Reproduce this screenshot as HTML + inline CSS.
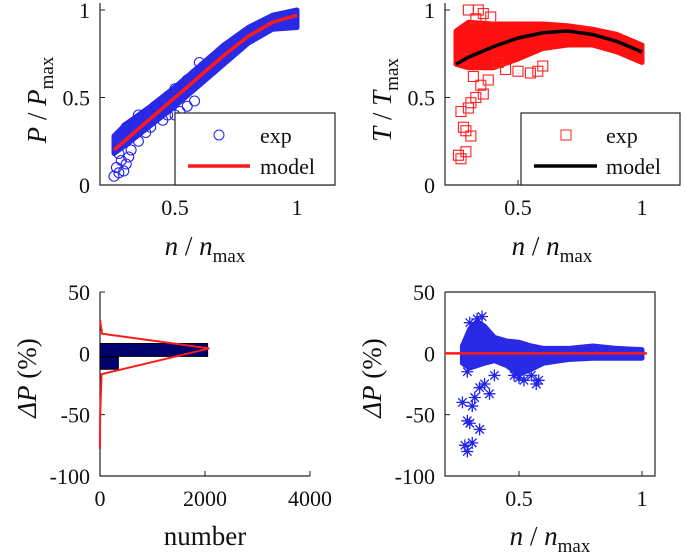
<!DOCTYPE html>
<html><head><meta charset="utf-8"><style>
html,body{margin:0;padding:0;background:#fff;}
svg{display:block;font-family:"Liberation Serif",serif;}
.tk{font-size:22px;fill:#111;}
.tt{font-size:27px;fill:#111;}
</style></head><body>
<svg id="fig" width="685" height="558" viewBox="0 0 685 558" xmlns="http://www.w3.org/2000/svg">
<g id="p1"></g>
<g id="p2"></g>
<g id="p3"></g>
<g id="p4"></g>
<text class="tt" transform="translate(46,100) rotate(-90)" text-anchor="middle"><tspan font-style="italic">P</tspan> / <tspan font-style="italic">P</tspan><tspan font-size="19" dy="7">max</tspan></text>
<text class="tt" x="205" y="255" text-anchor="middle"><tspan font-style="italic">n</tspan> / <tspan font-style="italic">n</tspan><tspan font-size="19" dy="7">max</tspan></text>
<text class="tt" transform="translate(391,100) rotate(-90)" text-anchor="middle"><tspan font-style="italic">T</tspan> / <tspan font-style="italic">T</tspan><tspan font-size="19" dy="7">max</tspan></text>
<text class="tt" x="552" y="255" text-anchor="middle"><tspan font-style="italic">n</tspan> / <tspan font-style="italic">n</tspan><tspan font-size="19" dy="7">max</tspan></text>
<text class="tt" transform="translate(36,378) rotate(-90)" text-anchor="middle"><tspan font-style="italic">ΔP</tspan> (%)</text>
<text class="tt" x="205" y="545" text-anchor="middle">number</text>
<text class="tt" transform="translate(381,378) rotate(-90)" text-anchor="middle"><tspan font-style="italic">ΔP</tspan> (%)</text>
<text class="tt" x="550" y="545" text-anchor="middle"><tspan font-style="italic">n</tspan> / <tspan font-style="italic">n</tspan><tspan font-size="19" dy="7">max</tspan></text>
</svg>
<script>
// ---- Panel 1 data (P/Pmax) ----
const pModelX=[0.25,0.3,0.4,0.5,0.6,0.7,0.8,0.9,1.0];
const pModelY=[0.2,0.26,0.38,0.5,0.62,0.74,0.85,0.93,0.97];
const pUpper=[0.28,0.35,0.45,0.56,0.68,0.8,0.9,0.97,1.0];
const pLower=[0.18,0.23,0.34,0.45,0.57,0.69,0.81,0.89,0.9];
const pOutX=[0.25,0.26,0.27,0.28,0.3,0.29,0.32,0.35,0.4,0.45,0.5,0.55,0.58,0.42,0.5,0.55,0.3,0.35,0.6,0.27,0.31,0.38,0.47,0.52];
const pOutY=[0.05,0.1,0.07,0.14,0.12,0.08,0.2,0.25,0.33,0.37,0.4,0.45,0.48,0.45,0.55,0.6,0.33,0.4,0.7,0.18,0.16,0.3,0.4,0.42];
// ---- Panel 2 data (T/Tmax) ----
const tModelX=[0.25,0.3,0.4,0.5,0.6,0.7,0.8,0.9,1.0];
const tModelY=[0.69,0.73,0.79,0.84,0.87,0.88,0.86,0.82,0.76];
const tUpper=[0.88,0.93,0.92,0.92,0.92,0.91,0.89,0.86,0.8];
const tLower=[0.69,0.67,0.67,0.72,0.78,0.8,0.8,0.76,0.7];
const tOutX=[0.26,0.27,0.29,0.28,0.29,0.31,0.27,0.3,0.31,0.33,0.36,0.35,0.32,0.38,0.3,0.34,0.36,0.45,0.5,0.55,0.58,0.6,0.42,0.33,0.39,0.28];
const tOutY=[0.17,0.15,0.19,0.33,0.31,0.28,0.42,0.44,0.47,0.5,0.52,0.57,0.62,0.6,1.0,1.0,0.98,0.66,0.65,0.64,0.65,0.68,0.7,0.95,0.96,0.72];
// ---- Panel 3 data (histogram) ----
const binLo=[-13,-2.5];
const binHi=[-3,8];
const binCount=[350,2050];
const fitDP=[-78,-50,-17,4,16,27];
const fitCount=[0,3,30,2080,40,0];
// ---- Panel 4 data (ΔP vs n) ----
const eX=[0.27,0.3,0.33,0.36,0.4,0.45,0.5,0.55,0.6,0.7,0.8,0.9,1.0];
const eUpper=[6,20,26,22,13,10,9,6,4,4,6,4,3];
const eLower=[-8,-12,-10,-8,-6,-10,-17,-13,-8,-5,-4,-4,-4];
const eOutX=[0.27,0.28,0.29,0.31,0.29,0.3,0.34,0.31,0.32,0.34,0.36,0.38,0.4,0.29,0.58,0.57,0.5,0.55,0.33,0.3,0.35,0.48,0.52];
const eOutY=[-40,-75,-80,-73,-55,-57,-62,-43,-36,-28,-25,-33,-18,-15,-22,-25,-20,-18,28,25,30,-18,-22];

const NS='http://www.w3.org/2000/svg';
function mk(tag,attrs,parent){const e=document.createElementNS(NS,tag);for(const k in attrs)e.setAttribute(k,attrs[k]);parent.appendChild(e);return e;}
function lin(d0,d1,r0,r1){return v=>r0+(v-d0)*(r1-r0)/(d1-d0);}
function axes(g,L,R,T,B,xt,xs,yt,ys,box){
  const a=mk('path',{d:`M${L},${T}V${B}H${R}`+(box?`V${T}H${L}`:''),fill:'none',stroke:'#222','stroke-width':1.2},g);
  
  xt.forEach(t=>{const x=xs(t.v);mk('line',{x1:x,x2:x,y1:B,y2:B-5,stroke:'#222'},g);
    const e=mk('text',{x:x,y:B+30,'text-anchor':'middle',class:'tk'},g);e.textContent=t.l;
    });
  yt.forEach(t=>{const y=ys(t.v);mk('line',{x1:L,x2:L+5,y1:y,y2:y,stroke:'#222'},g);
    const e=mk('text',{x:L-10,y:y+8,'text-anchor':'end',class:'tk'},g);e.textContent=t.l;
    });
}
function band(g,xs,ys,X,U,Lo,color,name){
  let d='M'+X.map((x,i)=>xs(x)+','+ys(U[i])).join('L');
  for(let i=X.length-1;i>=0;i--)d+='L'+xs(X[i])+','+ys(Lo[i]);
  const p=mk('path',{d:d+'Z',fill:color,stroke:color,'stroke-width':5,'stroke-linejoin':'round'},g);
  
}
function line(g,xs,ys,X,Y,color,w,name){
  const p=mk('polyline',{points:X.map((x,i)=>xs(x)+','+ys(Y[i])).join(' '),fill:'none',stroke:color,'stroke-width':w},g);
  
}
function star(g,x,y,c){const r=6;let d='';for(let k=0;k<4;k++){const a=k*Math.PI/4;d+=`M${x-r*Math.cos(a)},${y-r*Math.sin(a)}L${x+r*Math.cos(a)},${y+r*Math.sin(a)}`;}
  return mk('path',{d:d,stroke:c,'stroke-width':1.3,fill:'none'},g);}

// Panel 1
(function(){const g=document.getElementById('p1');
 const xs=lin(0.5,1,175,297),ys=lin(0,1,185,10);
 axes(g,100,335,3,185,[{v:0.5,l:'0.5'},{v:1,l:'1'}],xs,[{v:0,l:'0'},{v:0.5,l:'0.5'},{v:1,l:'1'}],ys,false);
 band(g,xs,ys,pModelX,pUpper,pLower,'#2a2ae6','exp-band');
 pOutX.forEach((x,i)=>{const c=mk('circle',{cx:xs(x),cy:ys(pOutY[i]),r:5,fill:'none',stroke:'#2222ee','stroke-width':1.1},g);
  });
 line(g,xs,ys,pModelX,pModelY,'#ff1a1a',3.5,'model-line');
 const lg=mk('g',{},g);
 mk('rect',{x:175,y:113,width:160,height:72,fill:'#fff',stroke:'#222','stroke-width':1.2},lg);
 mk('circle',{cx:219,cy:135,r:5,fill:'none',stroke:'#2222ee'},lg);
 let t=mk('text',{x:260,y:143,class:'tk'},lg);t.textContent='exp';
 mk('line',{x1:188,x2:250,y1:166,y2:166,stroke:'#ff1a1a','stroke-width':3.5},lg);
 t=mk('text',{x:260,y:174,class:'tk'},lg);t.textContent='model';
})();
// Panel 2
(function(){const g=document.getElementById('p2');
 const xs=lin(0.5,1,518,642),ys=lin(0,1,185,10);
 axes(g,445,680,3,185,[{v:0.5,l:'0.5'},{v:1,l:'1'}],xs,[{v:0,l:'0'},{v:0.5,l:'0.5'},{v:1,l:'1'}],ys,false);
 band(g,xs,ys,tModelX,tUpper,tLower,'#ff1010','exp-band');
 tOutX.forEach((x,i)=>{const c=mk('rect',{x:xs(x)-5,y:ys(tOutY[i])-5,width:10,height:10,fill:'none',stroke:'#ff2020','stroke-width':1.1},g);
  });
 line(g,xs,ys,tModelX,tModelY,'#000',3.5,'model-line');
 const lg=mk('g',{},g);
 mk('rect',{x:521,y:113,width:159,height:72,fill:'#fff',stroke:'#222','stroke-width':1.2},lg);
 mk('rect',{x:561,y:130,width:10,height:10,fill:'none',stroke:'#ff2020'},lg);
 let t=mk('text',{x:606,y:143,class:'tk'},lg);t.textContent='exp';
 mk('line',{x1:534,x2:597,y1:166,y2:166,stroke:'#000','stroke-width':3.5},lg);
 t=mk('text',{x:606,y:174,class:'tk'},lg);t.textContent='model';
})();
// Panel 3
(function(){const g=document.getElementById('p3');
 const xs=lin(0,4000,100,310),ys=lin(-100,50,476,292);
 axes(g,100,310,292,476,[{v:0,l:'0'},{v:2000,l:'2000'},{v:4000,l:'4000'}],xs,[{v:-100,l:'-100'},{v:-50,l:'-50'},{v:0,l:'0'},{v:50,l:'50'}],ys,false);
 binCount.forEach((c,i)=>{const r=mk('rect',{x:xs(0),y:ys(binHi[i]),width:xs(c)-xs(0),height:ys(binLo[i])-ys(binHi[i]),fill:'#00006e',stroke:'#000','stroke-width':1},g);
  });
 line(g,xs,ys,fitCount,fitDP,'#ff1a1a',2,'fit-curve');
})();
// Panel 4
(function(){const g=document.getElementById('p4');
 const xs=lin(0.5,1,519,642),ys=lin(-100,50,476,292);
 axes(g,445,655,292,476,[{v:0.5,l:'0.5'},{v:1,l:'1'}],xs,[{v:-100,l:'-100'},{v:-50,l:'-50'},{v:0,l:'0'},{v:50,l:'50'}],ys,true);
 band(g,xs,ys,eX,eUpper,eLower,'#2a2ae6','error-band');
 eOutX.forEach((x,i)=>{const s=star(g,xs(x),ys(eOutY[i]),'#2222ee');
  });
 const z=mk('line',{x1:445,x2:xs(1.02),y1:ys(0),y2:ys(0),stroke:'#ff1a1a','stroke-width':2.5},g);
 
})();
</script>
</body></html>
